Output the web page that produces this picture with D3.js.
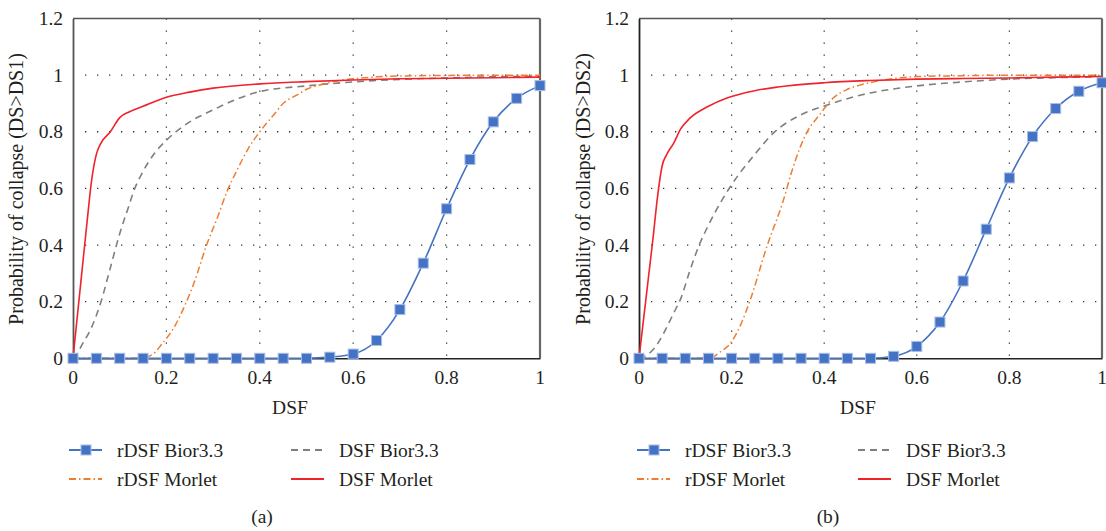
<!DOCTYPE html>
<html>
<head>
<meta charset="utf-8">
<script src="https://cdn.jsdelivr.net/npm/d3@7"></script>
</head>
<body style="margin:0">
<script>
// ---- data ----
var xTicks = [0, 0.2, 0.4, 0.6, 0.8, 1];
var yTicks = [0, 0.2, 0.4, 0.6, 0.8, 1, 1.2];

// rDSF Bior3.3 (square markers)
var rBiorX = [0, 0.05, 0.1, 0.15, 0.2, 0.25, 0.3, 0.35, 0.4, 0.45, 0.5, 0.55, 0.6, 0.65, 0.7, 0.75, 0.8, 0.85, 0.9, 0.95, 1];
var rBiorA = [0, 0, 0, 0, 0, 0, 0, 0, 0, 0, 0, 0.004, 0.015, 0.063, 0.172, 0.336, 0.528, 0.702, 0.835, 0.918, 0.963];
var rBiorB = [0, 0, 0, 0, 0, 0, 0, 0, 0, 0, 0, 0.007, 0.042, 0.128, 0.273, 0.456, 0.637, 0.783, 0.882, 0.943, 0.973];

// DSF Bior3.3 (grey dashed)
var dBiorAx = [0, 0.01, 0.02, 0.04, 0.06, 0.08, 0.1, 0.12, 0.13, 0.15, 0.175, 0.2, 0.25, 0.3, 0.35, 0.4, 0.5, 0.6, 0.7, 0.8, 0.9, 1];
var dBiorAy = [0, 0.02, 0.05, 0.11, 0.2, 0.32, 0.44, 0.54, 0.59, 0.66, 0.725, 0.77, 0.835, 0.877, 0.915, 0.942, 0.962, 0.976, 0.985, 0.99, 0.994, 0.996];
var dBiorBx = [0, 0.01, 0.02, 0.03, 0.045, 0.06, 0.075, 0.09, 0.11, 0.13, 0.15, 0.175, 0.2, 0.25, 0.29, 0.35, 0.4, 0.48, 0.6, 0.7, 0.8, 0.9, 1];
var dBiorBy = [0, 0.005, 0.015, 0.03, 0.064, 0.11, 0.16, 0.21, 0.31, 0.4, 0.47, 0.547, 0.613, 0.72, 0.795, 0.86, 0.891, 0.93, 0.962, 0.976, 0.986, 0.991, 0.994];

// rDSF Morlet (orange dash-dot)
var rMorAx = [0, 0.15, 0.16, 0.175, 0.19, 0.2, 0.22, 0.243, 0.26, 0.286, 0.31, 0.33, 0.35, 0.375, 0.4, 0.43, 0.45, 0.48, 0.5, 0.53, 0.56, 0.6, 0.65, 0.7, 0.8, 0.9, 1];
var rMorAy = [0, 0, 0.005, 0.02, 0.05, 0.07, 0.12, 0.2, 0.27, 0.4, 0.5, 0.59, 0.66, 0.74, 0.8, 0.86, 0.9, 0.93, 0.95, 0.966, 0.978, 0.987, 0.994, 0.997, 0.999, 1, 1];
var rMorBx = [0, 0.15, 0.16, 0.175, 0.197, 0.22, 0.24, 0.276, 0.312, 0.33, 0.36, 0.39, 0.42, 0.45, 0.48, 0.52, 0.56, 0.6, 0.7, 0.8, 0.9, 1];
var rMorBy = [0, 0, 0.005, 0.022, 0.052, 0.12, 0.205, 0.394, 0.559, 0.66, 0.79, 0.86, 0.92, 0.95, 0.966, 0.98, 0.99, 0.995, 0.998, 1, 1, 1];

// DSF Morlet (red solid)
var dMorAx = [0, 0.01, 0.02, 0.03, 0.04, 0.05, 0.06, 0.08, 0.1, 0.12, 0.15, 0.2, 0.25, 0.3, 0.4, 0.5, 0.6, 0.7, 0.8, 0.9, 1];
var dMorAy = [0, 0.16, 0.32, 0.48, 0.63, 0.72, 0.76, 0.8, 0.85, 0.87, 0.89, 0.922, 0.94, 0.954, 0.969, 0.977, 0.983, 0.987, 0.989, 0.991, 0.993];
var dMorBx = [0, 0.01, 0.02, 0.03, 0.04, 0.05, 0.06, 0.075, 0.09, 0.11, 0.15, 0.19, 0.25, 0.3, 0.4, 0.5, 0.6, 0.7, 0.8, 0.9, 1];
var dMorBy = [0, 0.14, 0.28, 0.42, 0.57, 0.68, 0.72, 0.76, 0.81, 0.848, 0.89, 0.919, 0.945, 0.958, 0.973, 0.981, 0.986, 0.988, 0.99, 0.993, 0.995];

var legendNames = ["rDSF Bior3.3", "DSF Bior3.3", "rDSF Morlet", "DSF Morlet"];

// ---- drawing ----
var W = 1106, H = 531;
var FONT = "'Liberation Serif'";
var svg = d3.select("body").append("svg").attr("width", W).attr("height", H);

var blue = "#4472c4", orange = "#ed7d31", grey = "#7f7f7f", red = "#f0222a";

function zip(xs, ys) {
  return xs.map(function(x, i) { return { x: x, y: ys[i] }; });
}

// all text goes through here, same way as plain svg text
function label(g, size) {
  return g.append("text").attr("font-size", size).style("font-family", FONT).attr("fill", "#231f20");
}

function drawPanel(p) {
  var x = d3.scaleLinear().domain([0, 1]).range([p.x0, p.x1]);
  var y = d3.scaleLinear().domain([0, 1.2]).range([358.3, 18.5]);
  var g = svg.append("g");

  // dotted grid
  g.selectAll(".gx").data(xTicks.slice(1, -1)).enter().append("line")
    .attr("x1", function(d) { return x(d); }).attr("x2", function(d) { return x(d); })
    .attr("y1", y(1.2)).attr("y2", y(0))
    .attr("stroke", "#333").attr("stroke-width", 1.3).attr("stroke-dasharray", "1.3,10.7");
  g.selectAll(".gy").data(yTicks.slice(1, -1)).enter().append("line")
    .attr("y1", function(d) { return y(d); }).attr("y2", function(d) { return y(d); })
    .attr("x1", x(0) + 12).attr("x2", x(1))
    .attr("stroke", "#333").attr("stroke-width", 1.3).attr("stroke-dasharray", "1.3,10.7");

  // frame
  g.append("line").attr("x1", x(0)).attr("x2", x(1)).attr("y1", y(1.2)).attr("y2", y(1.2))
    .attr("stroke", "#555").attr("stroke-width", 1.5);
  g.append("line").attr("x1", x(1)).attr("x2", x(1)).attr("y1", y(1.2)).attr("y2", y(0))
    .attr("stroke", "#666").attr("stroke-width", 2.2);

  // axes: scales drive the positions, labels drawn as plain text
  var xa = g.append("g").attr("transform", "translate(0," + y(0) + ")")
    .call(d3.axisBottom(x).tickValues(xTicks).tickSize(0).tickFormat(""));
  var ya = g.append("g").attr("transform", "translate(" + x(0) + ",0)")
    .call(d3.axisLeft(y).tickValues(yTicks).tickSize(0).tickFormat(""));
  xa.select(".domain").attr("stroke", "#222").attr("stroke-width", 1.5);
  ya.select(".domain").attr("stroke", p.leftAxisColor).attr("stroke-width", 1.8);
  xTicks.forEach(function(t) {
    label(g, 19.5).attr("x", x(t)).attr("y", y(0) + 26).attr("text-anchor", "middle").text(String(t));
  });
  yTicks.forEach(function(t) {
    label(g, 19.5).attr("x", x(0) - 10).attr("y", y(t) + 6.5).attr("text-anchor", "end").text(String(t));
  });

  // titles
  label(g, 19.5).attr("x", p.xTitleX).attr("y", 414).attr("text-anchor", "middle").text("DSF");
  label(g, 20).attr("transform", "translate(" + (p.yTitleX + 6) + ",189) rotate(-90)")
    .attr("text-anchor", "middle").text(p.yTitle);
  label(g, 19.5).attr("x", p.capX).attr("y", 523).attr("text-anchor", "middle").text(p.caption);

  var line = d3.line().x(function(d) { return x(d.x); }).y(function(d) { return y(d.y); })
    .curve(d3.curveMonotoneX);

  // series
  g.append("path").datum(zip(p.dbx, p.dby)).attr("d", line).attr("fill", "none")
    .attr("stroke", grey).attr("stroke-width", 1.6).attr("stroke-dasharray", "7,5");
  g.append("path").datum(zip(p.rmx, p.rmy)).attr("d", line).attr("fill", "none")
    .attr("stroke", orange).attr("stroke-width", 1.5).attr("stroke-dasharray", "7,3,1.5,3");
  g.append("path").datum(zip(p.dmx, p.dmy)).attr("d", line).attr("fill", "none")
    .attr("stroke", red).attr("stroke-width", 1.6);
  var rb = zip(rBiorX, p.rb);
  g.append("path").datum(rb).attr("d", line).attr("fill", "none")
    .attr("stroke", blue).attr("stroke-width", 1.6);
  g.selectAll(".sq").data(rb).enter().append("rect")
    .attr("x", function(d) { return x(d.x) - 5; }).attr("y", function(d) { return y(d.y) - 5; })
    .attr("width", 10).attr("height", 10)
    .attr("fill", blue).attr("stroke", "#a8bde6").attr("stroke-width", 1);

  // legend
  var rows = [450, 479];
  var lg = g.append("g");
  var items = [
    { name: legendNames[0], lx: p.lc1, row: 0, stroke: blue, dash: null, marker: true },
    { name: legendNames[1], lx: p.lc2, row: 0, stroke: grey, dash: "7,5", marker: false },
    { name: legendNames[2], lx: p.lc1, row: 1, stroke: orange, dash: "7,3,1.5,3", marker: false },
    { name: legendNames[3], lx: p.lc2, row: 1, stroke: red, dash: null, marker: false }
  ];
  items.forEach(function(it) {
    var yy = rows[it.row];
    lg.append("line").attr("x1", it.lx).attr("x2", it.lx + 33).attr("y1", yy).attr("y2", yy)
      .attr("stroke", it.stroke).attr("stroke-width", 1.8)
      .attr("stroke-dasharray", it.dash);
    if (it.marker) {
      lg.append("rect").attr("x", it.lx + 12).attr("y", yy - 5).attr("width", 10).attr("height", 10)
        .attr("fill", blue).attr("stroke", "#a8bde6").attr("stroke-width", 1);
    }
    label(lg, 19.5).attr("x", it.lx + 48).attr("y", yy + 6.5).text(it.name);
  });
}

drawPanel({
  x0: 73, x1: 540, leftAxisColor: "#555",
  yTitle: "Probability of collapse (DS>DS1)", yTitleX: 17, xTitleX: 290,
  caption: "(a)", capX: 262, lc1: 69, lc2: 291,
  rb: rBiorA, dbx: dBiorAx, dby: dBiorAy, rmx: rMorAx, rmy: rMorAy, dmx: dMorAx, dmy: dMorAy
});
drawPanel({
  x0: 639, x1: 1102, leftAxisColor: "#222",
  yTitle: "Probability of collapse (DS>DS2)", yTitleX: 583.5, xTitleX: 858,
  caption: "(b)", capX: 828, lc1: 637, lc2: 858,
  rb: rBiorB, dbx: dBiorBx, dby: dBiorBy, rmx: rMorBx, rmy: rMorBy, dmx: dMorBx, dmy: dMorBy
});
</script>
</body>
</html>
